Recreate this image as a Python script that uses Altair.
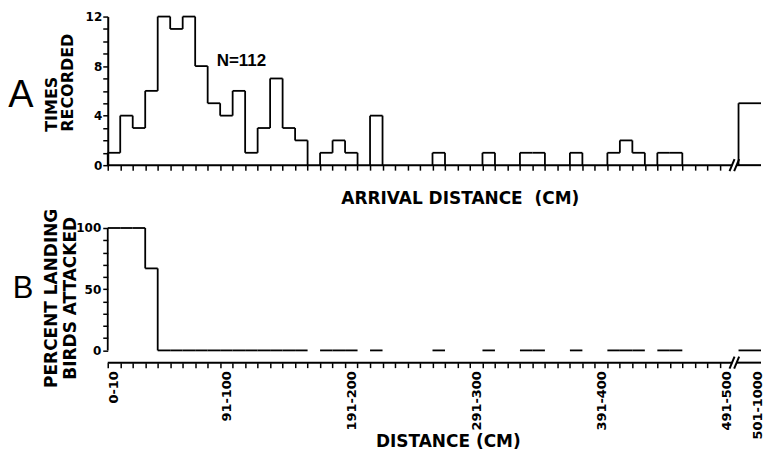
import altair as alt
import pandas as pd

# ---------------- data ----------------
# Panel A: number of arrivals per 10-cm distance class (0-10 ... 491-500 cm)
counts_10cm = [1, 4, 3, 6, 12, 11, 12, 8, 5, 4, 6, 1, 3, 7, 3, 2,
               0, 1, 2, 1, 0, 4, 0, 0, 0, 0, 1, 0, 0, 0, 1, 0, 0,
               1, 1, 0, 0, 1, 0, 0, 1, 2, 1, 0, 1, 1, 0, 0, 0, 0]
count_501_1000 = 5
n_total = 112

# Panel B: percent of landing birds attacked (None = no birds in that class)
pct_attacked_10cm = [100, 100, 100, 67, 0, 0, 0, 0, 0, 0, 0, 0, 0, 0, 0, 0,
                     None, 0, 0, 0, None, 0, None, None, None, None, 0,
                     None, None, None, 0, None, None, 0, 0, None, None, 0,
                     None, None, 0, 0, 0, None, 0, 0, None, None, None, None]
pct_501_1000 = 0

# tick labels of the distance axis (bin index -> text)
label_bins = [0, 9, 19, 29, 39, 49]
label_texts = ["0-10", "91-100", "191-200", "291-300", "391-400", "491-500"]
label_big = "501-1000"
panel_letters = ["A", "B"]

FONT = "Liberation Sans"
TFONT = "DejaVu Sans"
NB = len(counts_10cm)          # 50 classes of 10 cm
BIG_START = NB + 0.5           # after the axis break
BIG_CENTER = NB + 2.0
XMAX = 52.3
W = 655
HA, HB = 149, 135


def seg(rows, x, y, x2, y2):
    rows.append({"x": x, "y": y, "x2": x2, "y2": y2})


# ---------- panel A step outline ----------
rowsA = []
for i, c in enumerate(counts_10cm):
    if c > 0:
        seg(rowsA, i, c, i + 1, c)
for e in range(NB + 1):
    prev = counts_10cm[e - 1] if e > 0 else 0
    cur = counts_10cm[e] if e < NB else 0
    if prev != cur:
        seg(rowsA, e, prev, e, cur)
seg(rowsA, BIG_START, 0, BIG_START, count_501_1000)
seg(rowsA, BIG_START, count_501_1000, XMAX, count_501_1000)
dfA = pd.DataFrame(rowsA)

# axis line with break, panel A (y = 0)
axA = []
seg(axA, 0, 0, 50.0, 0)
seg(axA, 50.35, 0, XMAX, 0)
seg(axA, 49.78, -0.48, 50.18, 0.48)
seg(axA, 50.15, -0.48, 50.55, 0.48)
dfAxA = pd.DataFrame(axA)

# ---------- panel B step outline ----------
rowsB = []
for i, p in enumerate(pct_attacked_10cm):
    if p is not None:
        seg(rowsB, i, p, i + 1, p)
for e in range(NB + 1):
    prev = pct_attacked_10cm[e - 1] if e > 0 else (0 if pct_attacked_10cm[0] is not None else None)
    cur = pct_attacked_10cm[e] if e < NB else None
    if prev is not None and cur is not None and prev != cur:
        seg(rowsB, e, prev, e, cur)
seg(rowsB, BIG_START, pct_501_1000, XMAX, pct_501_1000)
dfB = pd.DataFrame(rowsB)

YB0 = -10
axB = []
seg(axB, 0, YB0, 50.0, YB0)
seg(axB, 50.35, YB0, XMAX, YB0)
seg(axB, 49.78, YB0 - 4.9, 50.18, YB0 + 4.9)
seg(axB, 50.15, YB0 - 4.9, 50.55, YB0 + 4.9)
dfAxB = pd.DataFrame(axB)

# ---------- axes ----------
xscale = alt.Scale(domain=[0, XMAX], nice=False, zero=False)

axisXA = alt.Axis(values=list(range(NB)), labels=False, domain=False,
                  tickSize=5, tickWidth=1.5, grid=False,
                  title="ARRIVAL DISTANCE\u00a0\u00a0(CM)", titleX=353, titleY=38,
                  titleAlign="center", titleBaseline="alphabetic", titleFontSize=17)
axisYA = alt.Axis(values=list(range(13)),
                  labelExpr="datum.value % 4 == 0 ? datum.label : ''",
                  tickSize=5, labelPadding=1, labelFontSize=12, domainWidth=2,
                  grid=False, title=["TIMES", "RECORDED"], titleAngle=270,
                  titleAlign="left", titleBaseline="top", titleX=-64, titleY=115,
                  titleFontSize=16, titleLineHeight=16)

label_pos = [b + 0.5 for b in label_bins] + [BIG_CENTER]
label_all = label_texts + [label_big]
expr = "''"
for p, t in zip(reversed(label_pos), reversed(label_all)):
    expr = f"datum.value == {p} ? '{t}' : ({expr})"

axisXB = alt.Axis(values=list(range(NB)) + label_pos, labelExpr=expr,
                  labelAngle=270, labelPadding=3, labelFontSize=13,
                  labelOverlap=False, labelFlush=False, domain=False,
                  tickSize=5, tickWidth=1.5, grid=False,
                  tickOpacity={"condition": {"test": f"datum.value % 1 != 0 || datum.value > {NB}",
                                             "value": 0}, "value": 1},
                  title="DISTANCE (CM)", titleX=341, titleY=84,
                  titleAlign="center", titleBaseline="alphabetic", titleFontSize=17)
axisYB = alt.Axis(values=list(range(0, 101, 10)),
                  labelExpr="datum.value % 50 == 0 ? datum.label : ''",
                  domain=False, tickSize=5, labelPadding=2, labelFontSize=12,
                  grid=False, title=["PERCENT LANDING", "BIRDS ATTACKED"],
                  titleAngle=270, titleAlign="center", titleBaseline="top",
                  titleX=-64, titleY=70, titleFontSize=17, titleLineHeight=19)

xA = alt.X("x:Q", scale=xscale, axis=axisXA)
yA = alt.Y("y:Q", scale=alt.Scale(domain=[0, 12], nice=False), axis=axisYA)
xB = alt.X("x:Q", scale=xscale, axis=axisXB)
yB = alt.Y("y:Q", scale=alt.Scale(domain=[YB0, 100], nice=False, zero=False), axis=axisYB)

stepA = alt.Chart(dfA).mark_rule(color="black", strokeWidth=1.8).encode(
    x=xA, y=yA, x2="x2", y2="y2")
axlineA = alt.Chart(dfAxA).mark_rule(color="black", strokeWidth=2).encode(
    x=xA, y=yA, x2="x2", y2="y2")
nA = alt.Chart(pd.DataFrame({"x": [10.7], "y": [8.4], "t": [f"N={n_total}"]})).mark_text(
    font=FONT, fontSize=17, fontWeight="bold", color="black").encode(x=xA, y=yA, text="t:N")
letterA = alt.Chart(pd.DataFrame({"t": [panel_letters[0]]})).mark_text(
    font=FONT, fontSize=38, color="black", align="center", baseline="middle").encode(
    x=alt.value(-87), y=alt.value(80), text="t:N")
panelA = alt.layer(stepA, axlineA, nA, letterA).properties(width=W, height=HA)

stepB = alt.Chart(dfB).mark_rule(color="black", strokeWidth=1.8).encode(
    x=xB, y=yB, x2="x2", y2="y2")
axlineB = alt.Chart(dfAxB).mark_rule(color="black", strokeWidth=2).encode(
    x=xB, y=yB, x2="x2", y2="y2")
letterB = alt.Chart(pd.DataFrame({"t": [panel_letters[1]]})).mark_text(
    font=FONT, fontSize=31, color="black", align="center", baseline="middle").encode(
    x=alt.value(-85), y=alt.value(61), text="t:N")
panelB = alt.layer(stepB, axlineB, letterB).properties(width=W, height=HB)

chart = alt.vconcat(panelA, panelB, spacing=63, bounds="flush").properties(
    padding={"left": 0, "top": 2, "right": 0, "bottom": 0}
).configure_view(stroke=None).configure_axis(
    labelFont=TFONT, titleFont=TFONT, labelColor="black", titleColor="black",
    domainColor="black", tickColor="black", labelFontWeight="bold",
    titleFontWeight="bold", domainWidth=2, tickWidth=1.5
)

chart.save("out.html", embed_options={"renderer": "svg", "actions": False})
